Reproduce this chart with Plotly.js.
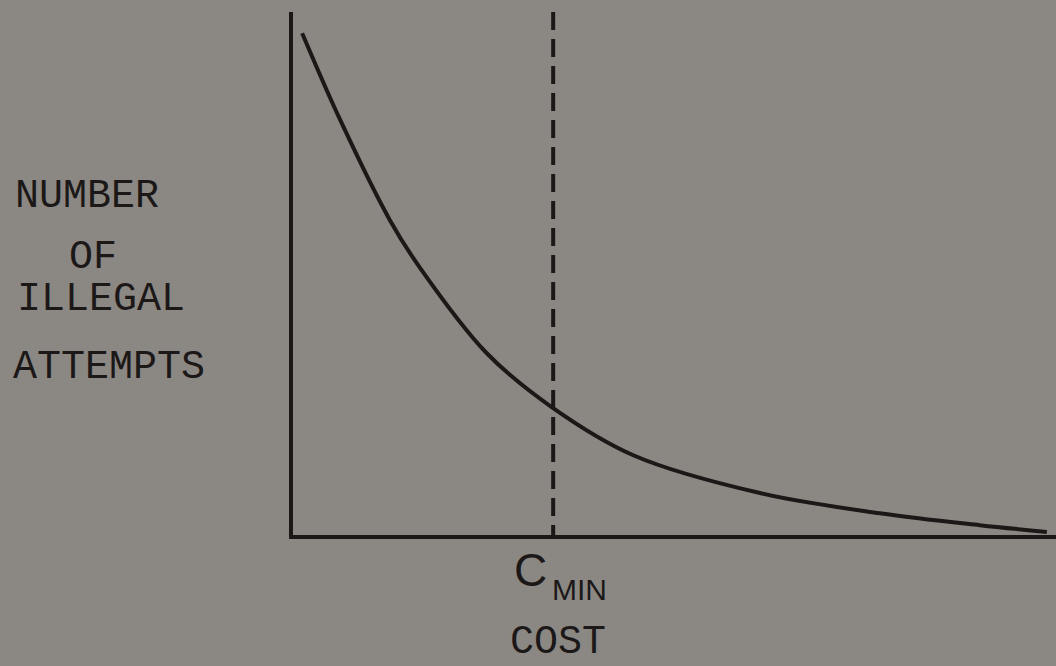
<!DOCTYPE html>
<html>
<head>
<meta charset="utf-8">
<script src="https://cdn.plot.ly/plotly-3.0.1.min.js"></script>
<style>
html, body { margin: 0; padding: 0; background: #8b8884; }
#chart { width: 1056px; height: 666px; }
</style>
</head>
<body>
<div id="chart"></div>
<script>
// Curve: number of illegal attempts vs cost (arbitrary units)
const costValues = [1.2, 6.2, 12.7, 16.6, 25.4, 33.9, 44.6, 61.2, 76.9, 90.0, 98.8];
const attemptValues = [96.9, 80.1, 60.8, 51.7, 35.1, 24.7, 15.4, 8.1, 4.2, 1.9, 0.6];
// Minimum cost marker
const cMin = 34.1;
const cMinSpan = [101, 0];
const yLabelLines = ["NUMBER", "OF", "ILLEGAL", "ATTEMPTS"];
const xLabel = "COST";
const cMinLabel = ["C", "MIN"];

const ink = "#1c1818";
const bg = "#8b8884";
const mono = "Liberation Mono, Courier New, monospace";
const sans = "Liberation Sans, Arial, sans-serif";

const traces = [
  {
    x: costValues, y: attemptValues, type: "scatter", mode: "lines",
    line: { color: ink, width: 4, shape: "spline", smoothing: 1 },
    hoverinfo: "skip", showlegend: false
  },
  {
    x: [cMin, cMin], y: cMinSpan, type: "scatter", mode: "lines",
    line: { color: ink, width: 4, dash: "18px,9px" },
    hoverinfo: "skip", showlegend: false
  }
];

const yPos = [0.648, 0.5315, 0.4512, 0.3212];
const xPos = [-0.3670, -0.2960, -0.3640, -0.369];
const annotations = yLabelLines.map((t, i) => ({
  text: t, xref: "paper", yref: "paper", x: xPos[i], y: yPos[i],
  xanchor: "left", yanchor: "middle", showarrow: false,
  font: { family: mono, size: 40, color: ink }
}));
annotations.push({
  text: cMinLabel[0], xref: "paper", yref: "paper", x: 0.3119, y: -0.0669,
  xanchor: "center", yanchor: "middle", showarrow: false,
  font: { family: sans, size: 46, color: ink }
});
annotations.push({
  text: cMinLabel[1], xref: "paper", yref: "paper", x: 0.3761, y: -0.1033,
  xanchor: "center", yanchor: "middle", showarrow: false,
  font: { family: sans, size: 30, color: ink }
});
annotations.push({
  text: xLabel, xref: "paper", yref: "paper", x: 0.3473, y: -0.2065,
  xanchor: "center", yanchor: "middle", showarrow: false,
  font: { family: mono, size: 40, color: ink }
});

const layout = {
  width: 1056, height: 666,
  margin: { l: 293, r: 0, t: 12, b: 131 },
  paper_bgcolor: bg, plot_bgcolor: bg,
  xaxis: {
    range: [0, 100], showgrid: false, zeroline: false, showticklabels: false,
    ticks: "", showline: true, linecolor: ink, linewidth: 4, fixedrange: true
  },
  yaxis: {
    range: [0, 101], showgrid: false, zeroline: false, showticklabels: false,
    ticks: "", showline: true, linecolor: ink, linewidth: 4, fixedrange: true
  },
  annotations: annotations,
  showlegend: false
};

Plotly.newPlot("chart", traces, layout, { staticPlot: true, displayModeBar: false });
</script>
</body>
</html>
